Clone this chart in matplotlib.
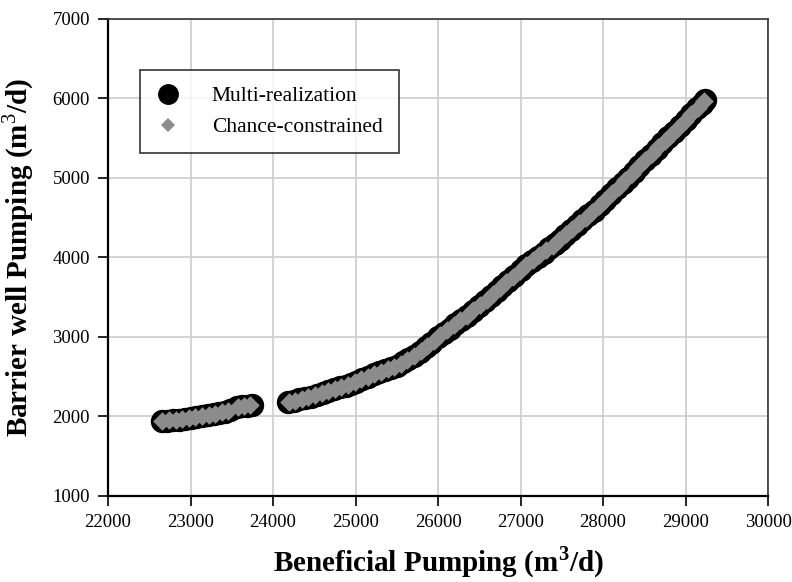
import matplotlib
matplotlib.use("Agg")
import matplotlib.pyplot as plt
from matplotlib.lines import Line2D

# pumping trade-off curves (m3/d)
multi_x = [22650, 22720, 22790, 22860, 22930, 23000, 23070, 23140, 23210,
           23280, 23350, 23420, 23480, 23560, 23620, 23680, 23740,
           24180, 24250, 24320, 24390, 24460, 24530, 24600, 24670, 24740, 24810, 24880, 24950,
           25010, 25080, 25150, 25220, 25290, 25360, 25430, 25500,
           25570, 25640, 25710, 25780, 25850, 25920, 26000,
           26070, 26140, 26210, 26280, 26350, 26420, 26500,
           26570, 26640, 26710, 26780, 26850, 26920, 27000,
           27070, 27140, 27210, 27280, 27350, 27420, 27480, 27540,
           27610, 27680, 27750, 27820, 27890, 27960, 28030, 28100, 28170, 28240, 28300,
           28370, 28440, 28510, 28580, 28650, 28720, 28790, 28860, 28930, 29000, 29070, 29140, 29200, 29240]
multi_y = [1940, 1948, 1955, 1962, 1970, 1987, 1995, 2005, 2015,
           2030, 2045, 2062, 2080, 2120, 2128, 2135, 2142,
           2180, 2195, 2215, 2232, 2250, 2270, 2292, 2318, 2345, 2365, 2385, 2410,
           2432, 2470, 2500, 2530, 2560, 2585, 2610, 2640,
           2680, 2720, 2765, 2810, 2870, 2930, 2995,
           3050, 3105, 3160, 3215, 3270, 3330, 3390,
           3450, 3510, 3575, 3640, 3705, 3770, 3840,
           3900, 3960, 4010, 4060, 4115, 4170, 4225, 4280,
           4340, 4405, 4470, 4530, 4590, 4655, 4720, 4795, 4870, 4940, 5000,
           5070, 5145, 5220, 5290, 5365, 5440, 5510, 5580, 5655, 5730, 5800, 5875, 5935, 5980]

chance_x = [22660, 22740, 22820, 22900, 22980, 23060, 23140, 23220, 23300, 23380, 23460,
            23580, 23650, 23720,
            24190, 24270, 24350, 24430, 24510, 24590, 24670, 24750, 24830, 24910, 24990,
            25070, 25150, 25230, 25310, 25390, 25470, 25550, 25630, 25710, 25790,
            25870, 25950, 26030, 26110, 26190, 26270, 26350, 26430, 26510, 26590,
            26670, 26750, 26830, 26910, 26990, 27070, 27150, 27230, 27310, 27390, 27470,
            27550, 27630, 27710, 27790, 27870, 27950, 28030, 28110, 28190, 28270,
            28350, 28430, 28510, 28590, 28670, 28750, 28830, 28910, 28990, 29070, 29150, 29230]
chance_y = [1942, 1950, 1958, 1966, 1980, 1993, 2005, 2018, 2035, 2055, 2075,
            2122, 2132, 2140,
            2182, 2200, 2222, 2245, 2268, 2292, 2320, 2350, 2372, 2400, 2428,
            2468, 2500, 2535, 2565, 2595, 2625, 2665, 2712, 2765, 2820,
            2885, 2950, 3020, 3085, 3150, 3210, 3270, 3335, 3400, 3470,
            3545, 3620, 3690, 3760, 3830, 3900, 3970, 4030, 4090, 4150, 4215,
            4290, 4360, 4430, 4500, 4570, 4645, 4720, 4805, 4890, 4975,
            5050, 5135, 5220, 5300, 5385, 5465, 5545, 5630, 5720, 5800, 5885, 5970]

x_ticks = [22000, 23000, 24000, 25000, 26000, 27000, 28000, 29000, 30000]
y_ticks = [1000, 2000, 3000, 4000, 5000, 6000, 7000]

plt.rcParams['font.family'] = 'Liberation Serif'
plt.rcParams['mathtext.fontset'] = 'custom'
plt.rcParams['mathtext.rm'] = 'Liberation Serif'
plt.rcParams['mathtext.bf'] = 'Liberation Serif:bold'

fig = plt.figure(figsize=(7.92, 5.82), dpi=100)
ax = fig.add_axes([0.1364, 0.1478, 0.8333, 0.8196])

gray = '#8c8c8c'
ax.scatter(multi_x, multi_y, s=250, c='black', marker='o', zorder=3)
ax.scatter(chance_x, chance_y, s=90, c=gray, marker='D', linewidths=0, zorder=4)

ax.set_xlim(22000, 30000)
ax.set_ylim(1000, 7000)
ax.set_xticks(x_ticks)
ax.set_yticks(y_ticks)
ax.tick_params(direction='out', length=7, width=1.2, labelsize=13.5, pad=6,
               top=False, right=False)
ax.grid(True, color='#cccccc', linewidth=1.2)
ax.set_axisbelow(True)
for side in ['left', 'bottom']:
    ax.spines[side].set_linewidth(1.6)
for side in ['top', 'right']:
    ax.spines[side].set_linewidth(1.2)
    ax.spines[side].set_color('#333333')

ax.set_xlabel(r'Beneficial Pumping (m$^{\mathbf{3}}$/d)', fontsize=21, fontweight='bold', labelpad=10)
ax.set_ylabel(r'Barrier well Pumping (m$^{3}$/d)', fontsize=21, fontweight='bold', labelpad=12)

handles = [Line2D([], [], linestyle='none', marker='o', markersize=14, color='black'),
           Line2D([], [], linestyle='none', marker='D', markersize=7, color=gray, markeredgewidth=0)]
leg = ax.legend(handles, ['Multi-realization', 'Chance-constrained'], loc='upper left',
                bbox_to_anchor=(0.048, 0.893), fontsize=15.5, frameon=True, fancybox=False,
                edgecolor='black', borderpad=0.75, handlelength=1.1, handletextpad=1.5,
                labelspacing=0.5, borderaxespad=0)
leg.get_frame().set_linewidth(1.2)

fig.savefig('out.png', dpi=100)
